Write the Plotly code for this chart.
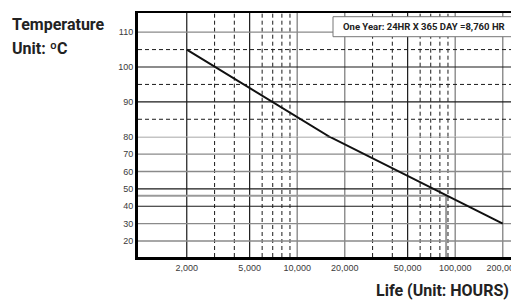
import plotly.graph_objects as go

# ---------------- data ----------------
hour_ticks = [2000, 5000, 10000, 20000, 50000, 100000, 200000]
hour_tick_text = ["2,000", "5,000", "10,000", "20,000", "50,000", "100,000", "200,000"]
hour_minor = [3000, 4000, 6000, 7000, 8000, 9000, 30000, 40000, 60000, 70000, 80000, 90000]
hour_dark = [2000, 5000, 50000]

temp_ticks_low = [20, 30, 40, 50, 60, 70, 80]
temp_ticks_high = [90, 100, 110]
temp_minor = [85, 95, 105]
temp_dark = [100, 90, 50, 40]

life_hours = [2000, 16000, 200000]
life_temps = [105, 80, 30]

ten_year_hours = 87600
ten_year_temp = 46

# ---------------- layout constants ----------------
W, H = 511, 305
ML, MR, MT, MB = 138, 0, 13, 48
PW, PH = W - ML - MR, H - MT - MB
X_RANGE = [2.9924, 5.3532]          # log10 range
Y_LOW = [10.8, 80]
Y_HIGH = [80, 115.5]
SPLIT = (257 - 136.7) / PH

FONT = "Roboto, Liberation Sans, Arial, sans-serif"
TICKFONT = dict(family="Liberation Sans, Arial, sans-serif", size=9, color="#3a3a3a")

xmin, xmax = 10 ** X_RANGE[0], 10 ** X_RANGE[1]


def vlines(xs, y0, y1):
    ox, oy = [], []
    for x in xs:
        ox += [x, x, None]
        oy += [y0, y1, None]
    return ox, oy


def hlines(ys):
    ox, oy = [], []
    for y in ys:
        ox += [xmin, xmax, None]
        oy += [y, y, None]
    return ox, oy


fig = go.Figure()

GRAY = "#8a8a8a"
DARK = "#1a1a1a"

for xa, ya, yr in (("x", "y", Y_LOW), ("x2", "y2", Y_HIGH)):
    # vertical grid
    gray_major = [h for h in hour_ticks if h not in hour_dark]
    for xs, color, dash, w in ((gray_major, GRAY, "solid", 1.4),
                               (hour_dark, DARK, "solid", 1.2),
                               (hour_minor, DARK, "4px,3px", 1.0)):
        vx, vy = vlines(xs, yr[0], yr[1])
        fig.add_trace(go.Scatter(x=vx, y=vy, mode="lines", xaxis=xa, yaxis=ya,
                                 line=dict(color=color, width=w, dash=dash),
                                 hoverinfo="skip", showlegend=False))
    # horizontal grid
    ticks = temp_ticks_low if ya == "y" else temp_ticks_high
    minors = [t for t in temp_minor if yr[0] <= t <= yr[1]]
    gray_h = [t for t in ticks if t not in temp_dark]
    dark_h = [t for t in ticks if t in temp_dark]
    for ys, color, dash, w in ((gray_h, GRAY, "solid", 1.4),
                               (dark_h, DARK, "solid", 1.2),
                               (minors, DARK, "4px,3px", 1.0)):
        if not ys:
            continue
        hx, hy = hlines(ys)
        fig.add_trace(go.Scatter(x=hx, y=hy, mode="lines", xaxis=xa, yaxis=ya,
                                 line=dict(color=color, width=w, dash=dash),
                                 hoverinfo="skip", showlegend=False))

# ten-year marker (bottom panel)
fig.add_trace(go.Scatter(x=[xmin, ten_year_hours, ten_year_hours],
                         y=[ten_year_temp, ten_year_temp, Y_LOW[0]],
                         mode="lines", xaxis="x", yaxis="y",
                         line=dict(color="#9a9a9a", width=2),
                         hoverinfo="skip", showlegend=False))

# life line, drawn in both panels
for xa, ya in (("x", "y"), ("x2", "y2")):
    fig.add_trace(go.Scatter(x=life_hours, y=life_temps, mode="lines",
                             xaxis=xa, yaxis=ya,
                             line=dict(color="#111", width=2),
                             hoverinfo="skip", showlegend=False))

common_x = dict(type="log", range=X_RANGE, showgrid=False, zeroline=False,
                ticks="", linecolor="black", automargin=False)
fig.update_layout(
    width=W, height=H,
    margin=dict(l=ML, r=MR, t=MT, b=MB),
    paper_bgcolor="white", plot_bgcolor="white",
    showlegend=False,
    xaxis=dict(**common_x, anchor="y", domain=[0, 1], showline=True, linewidth=3,
               tickvals=hour_ticks, ticktext=hour_tick_text, tickfont=TICKFONT,
               ticklabeloverflow="allow"),
    xaxis2=dict(**common_x, anchor="y2", domain=[0, 1], matches="x", side="top",
                showline=True, linewidth=2, showticklabels=False),
    yaxis=dict(domain=[0, SPLIT], range=Y_LOW, showgrid=False, zeroline=False,
               showline=True, linewidth=3, linecolor="black", ticks="",
               tickvals=temp_ticks_low, tickfont=TICKFONT, automargin=False),
    yaxis2=dict(domain=[SPLIT, 1], range=Y_HIGH, showgrid=False, zeroline=False,
                showline=True, linewidth=3, linecolor="black", ticks="",
                tickvals=temp_ticks_high, tickfont=TICKFONT, automargin=False),
)


def px(x):
    return (x - ML) / PW


def py(y):
    return (MT + PH - y) / PH


# one-year box
fig.add_shape(type="rect", xref="paper", yref="paper",
              x0=px(333), x1=px(514), y0=py(36.7), y1=py(16.7),
              fillcolor="white", line=dict(color="#777", width=1), layer="above")
fig.add_annotation(xref="paper", yref="paper", x=px(424), y=py(26.5),
                   text="<b>One Year: 24HR X 365 DAY =8,760 HR</b>", showarrow=False,
                   font=dict(family=FONT, size=9.5, color="#222"),
                   xanchor="center", yanchor="middle")

# titles
fig.add_annotation(xref="paper", yref="paper", x=px(10), y=py(24),
                   text="<b>Temperature</b>", showarrow=False,
                   font=dict(family=FONT, size=16, color="#222"),
                   xanchor="left", yanchor="middle")
fig.add_annotation(xref="paper", yref="paper", x=px(10), y=py(48.5),
                   text="<b>Unit: ºC</b>", showarrow=False,
                   font=dict(family=FONT, size=16, color="#222"),
                   xanchor="left", yanchor="middle")
fig.add_annotation(xref="paper", yref="paper", x=px(511), y=py(290),
                   text="<b>Life (Unit: HOURS)</b>", showarrow=False,
                   font=dict(family=FONT, size=16, color="#222"),
                   xanchor="right", yanchor="middle")

fig.write_html("out.html", config={"displayModeBar": False},
               post_script="document.body.style.margin='0';")
